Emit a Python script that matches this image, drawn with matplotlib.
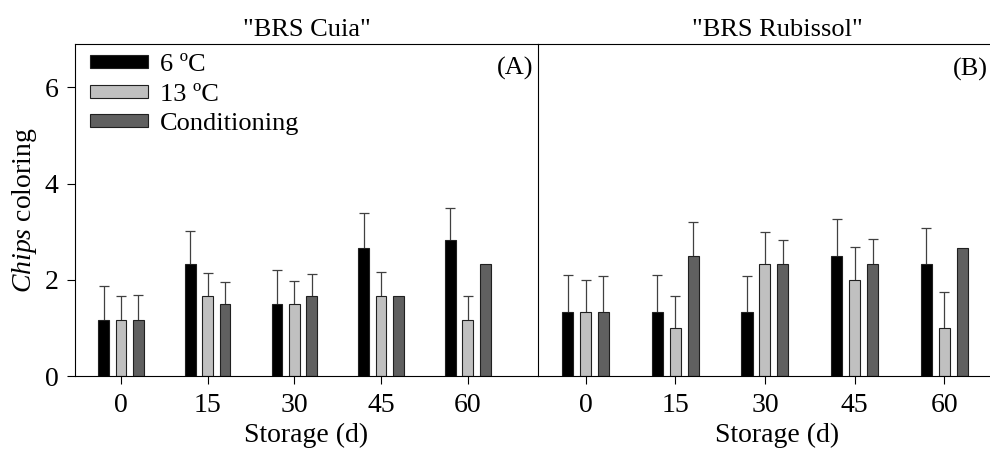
import numpy as np
import matplotlib
matplotlib.use("Agg")
import matplotlib.pyplot as plt

plt.rcParams['font.family'] = ['Liberation Serif', 'DejaVu Serif']
plt.rcParams['mathtext.fontset'] = 'custom'
plt.rcParams['mathtext.rm'] = 'Liberation Serif'
plt.rcParams['mathtext.it'] = 'Liberation Serif:italic'

days = ["0", "15", "30", "45", "60"]
series = ["6 ºC", "13 ºC", "Conditioning"]
colors = ["#000000", "#c0c0c0", "#606060"]

# "BRS Cuia"
cuia_6 = [1.17, 2.33, 1.50, 2.67, 2.83]
cuia_13 = [1.17, 1.67, 1.50, 1.67, 1.17]
cuia_cond = [1.17, 1.50, 1.67, 1.67, 2.33]
cuia_6_err = [0.70, 0.68, 0.71, 0.72, 0.67]
cuia_13_err = [0.50, 0.47, 0.48, 0.49, 0.50]
cuia_cond_err = [0.51, 0.45, 0.45, 0.0, 0.0]

# "BRS Rubissol"
rub_6 = [1.33, 1.33, 1.33, 2.50, 2.33]
rub_13 = [1.33, 1.00, 2.33, 2.00, 1.00]
rub_cond = [1.33, 2.50, 2.33, 2.33, 2.67]
rub_6_err = [0.77, 0.77, 0.75, 0.77, 0.74]
rub_13_err = [0.67, 0.67, 0.67, 0.68, 0.74]
rub_cond_err = [0.74, 0.71, 0.49, 0.52, 0.0]

fig = plt.figure(figsize=(9.9, 4.55), dpi=100)
ax1 = fig.add_axes([0.0758, 0.1736, 0.4676, 0.7297])
ax2 = fig.add_axes([0.5434, 0.1736, 0.4838, 0.7297])
ax2.patch.set_visible(False)

x = np.arange(len(days))
offsets = [-0.2, 0.0, 0.2]
width = 0.125


def draw_panel(ax, vals, errs, title):
    for i in range(3):
        xs = x + offsets[i]
        v = np.array(vals[i])
        e = np.array(errs[i])
        ax.bar(xs, v, width, color=colors[i], edgecolor="#202020",
               linewidth=0.8, label=series[i], zorder=2)
        m = e > 0
        # upper half of the error bar only, cap on top
        ax.vlines(xs[m], v[m], v[m] + e[m], color="#404040", linewidth=0.9,
                  zorder=1)
        ax.plot(xs[m], v[m] + e[m], linestyle="none", marker="_",
                markersize=7, markeredgewidth=0.9, color="#404040", zorder=1)
    ax.set_xlim(-0.53, 4.81)
    ax.set_ylim(0, 6.9)
    ax.set_xticks(x)
    ax.set_xticklabels(days)
    ax.set_xlabel("Storage (d)", fontsize=20, labelpad=4)
    ax.set_title(title, fontsize=19, pad=6)
    ax.tick_params(axis="both", direction="out", length=6, labelsize=20, pad=6)


draw_panel(ax1, [cuia_6, cuia_13, cuia_cond],
           [cuia_6_err, cuia_13_err, cuia_cond_err], '"BRS Cuia"')
draw_panel(ax2, [rub_6, rub_13, rub_cond],
           [rub_6_err, rub_13_err, rub_cond_err], '"BRS Rubissol"')

ax1.text(0.99, 0.96, "(A)", transform=ax1.transAxes, ha="right", va="top",
         fontsize=19)
fig.text(0.998, 0.8725, "(B)", ha="right", va="top", fontsize=19)

ax1.set_yticks([0, 2, 4, 6])
ax1.set_ylabel(r"$\mathit{Chips}$ coloring", fontsize=20, labelpad=4)
ax2.set_yticks([])
ax2.spines["left"].set_visible(False)

ax1.legend(loc="upper left", bbox_to_anchor=(0.0095, 1.001), frameon=False,
           fontsize=19, handlelength=2.2, handleheight=0.38, labelspacing=0.28,
           borderaxespad=0, handletextpad=0.45)

fig.savefig("out.png", dpi=100)
